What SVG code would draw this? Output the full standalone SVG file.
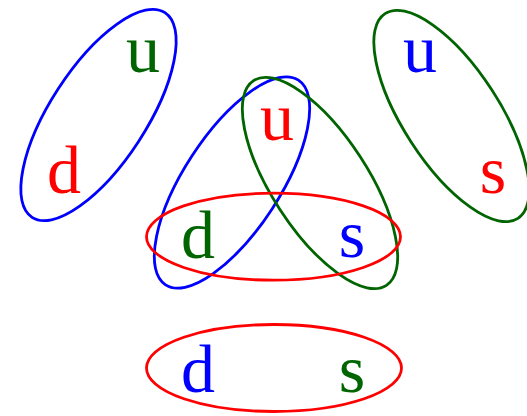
<svg xmlns="http://www.w3.org/2000/svg" width="527" height="416" viewBox="0 0 527 416">
<style>
.e{fill:none;stroke-width:2.8}
.b{stroke:#0000ff}.r{stroke:#ff0000}.g{stroke:#006400}
text{font-family:"Liberation Serif","Times New Roman",serif;font-size:68px;text-anchor:middle}
.tb{fill:#0000ff}.tr{fill:#ff0000}.tg{fill:#006400}
</style>
<rect width="527" height="416" fill="#fff"/>
<g id="pair-ud">
<ellipse class="e b" cx="0" cy="0" rx="122" ry="48" transform="translate(98.5,115) rotate(-57)"/>
<text class="tg" x="143" y="72">u</text>
<text class="tr" x="64" y="193">d</text>
</g>
<g id="pair-us">
<ellipse class="e g" cx="0" cy="0" rx="122" ry="48" transform="translate(451.5,116) rotate(57)"/>
<text class="tb" x="420" y="72">u</text>
<text class="tr" x="493" y="193">s</text>
</g>
<g id="triple-uds">
<ellipse class="e b" cx="0" cy="0" rx="122" ry="48" transform="translate(232,182.5) rotate(-57)"/>
<ellipse class="e g" cx="0" cy="0" rx="122" ry="48" transform="translate(320,183) rotate(57)"/>
<ellipse class="e r" cx="273.5" cy="236.7" rx="127" ry="43.5"/>
<text class="tr" x="277" y="140">u</text>
<text class="tg" x="198" y="258">d</text>
<text class="tb" x="352" y="257">s</text>
</g>
<g id="pair-ds">
<ellipse class="e r" cx="274" cy="368" rx="127.5" ry="43.5"/>
<text class="tb" x="198" y="392">d</text>
<text class="tg" x="352" y="392">s</text>
</g>
<g id="connectors"/>
</svg>
